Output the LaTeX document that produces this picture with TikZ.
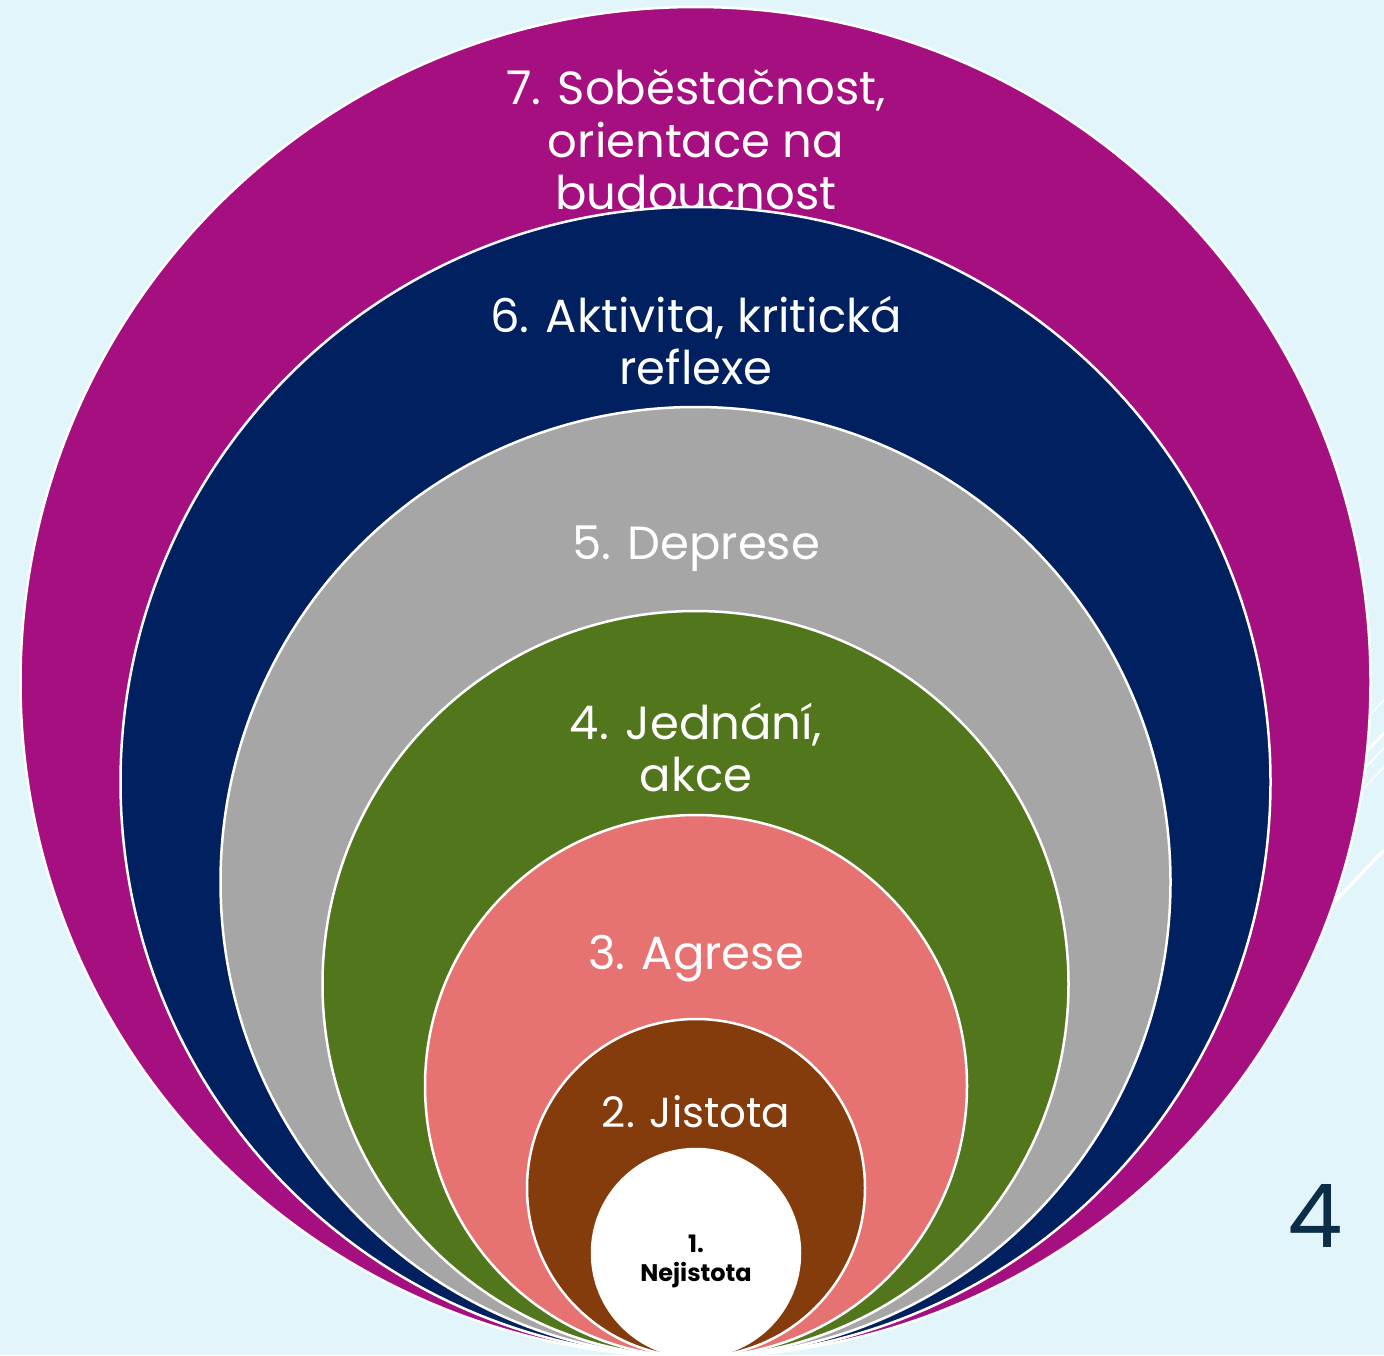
\documentclass[tikz,border=0pt]{standalone}
\usepackage{fontspec}
\setmainfont{Poppins}
\definecolor{bgc}{HTML}{E1F5FB}
\definecolor{c7}{HTML}{A50F80}
\definecolor{c6}{HTML}{002060}
\definecolor{c5}{HTML}{A6A6A6}
\definecolor{c4}{HTML}{52761B}
\definecolor{c3}{HTML}{E77272}
\definecolor{c2}{HTML}{843C0C}
\definecolor{c1}{HTML}{FFFFFF}
\definecolor{pnum}{HTML}{0B2E48}
\tikzset{
  ring/.style={draw=white, line width=2.5pt},
  lbl/.style={text=white, anchor=base, inner sep=0pt, font=\fontsize{46.5}{52}\selectfont},
  lblmid/.style={text=white, anchor=base, inner sep=0pt, font=\fontsize{42}{48}\selectfont},
  lblsm/.style={text=black, anchor=base, inner sep=0pt, font=\bfseries\fontsize{24}{28}\selectfont},
  deco/.style={draw=white, line cap=butt}
}
\begin{document}
\begin{tikzpicture}[x=1pt,y=-1pt]
\useasboundingbox (0,0) rectangle (1384,1355);
\clip (0,0) rectangle (1384,1355);
\fill[bgc] (0,0) rectangle (1384,1355);
% decorative template lines
\coordinate (d1a) at (1384,700); \coordinate (d1b) at (1184,910);
\coordinate (d2a) at (1384,733); \coordinate (d2b) at (1184,943);
\coordinate (d3a) at (1384,748); \coordinate (d3b) at (1184,958);
\coordinate (d4a) at (1384,767); \coordinate (d4b) at (1184,977);
\coordinate (d5a) at (1384,850); \coordinate (d5b) at (1184,1060);
\draw[deco, line width=1.5pt] (d1a) -- (d1b);
\draw[deco, line width=3pt] (d2a) -- (d2b);
\draw[deco, line width=1.5pt] (d3a) -- (d3b);
\draw[deco, line width=1.5pt] (d4a) -- (d4b);
\draw[deco, line width=3.5pt] (d5a) -- (d5b);
% rings
\filldraw[ring, fill=c7] (695.5,682) circle (675pt);
\node[lbl] (t7a) at (696,104) {7. Soběstačnost,};
\node[lbl] (t7b) at (696,157) {orientace na};
\node[lbl] (t7c) at (696,209) {budoucnost};
\filldraw[ring, fill=c6] (695.5,782) circle (575pt);
\node[lbl] (t6a) at (696,332) {6. Aktivita, kritická};
\node[lbl] (t6b) at (696,384) {reflexe};
\filldraw[ring, fill=c5] (695.5,882) circle (475pt);
\node[lbl] (t5) at (696,559) {5. Deprese};
\filldraw[ring, fill=c4] (695.5,984) circle (373pt);
\node[lbl] (t4a) at (696,739) {4. Jednání,};
\node[lbl] (t4b) at (696,791) {akce};
\filldraw[ring, fill=c3] (696,1086) circle (271pt);
\node[lbl] (t3) at (696,969) {3. Agrese};
\filldraw[ring, fill=c2] (696,1188) circle (169pt);
\node[lblmid] (t2) at (696,1127) {2. Jistota};
\filldraw[ring, fill=c1] (696,1253) circle (104pt);
\node[lblsm] (t1a) at (696,1252) {1.};
\node[lblsm] (t1b) at (696,1281) {Nejistota};
% page number
\node[text=pnum, anchor=base, inner sep=0pt, font=\fontsize{88}{90}\selectfont] (pg) at (1315,1247) {4};
\end{tikzpicture}
\end{document}
